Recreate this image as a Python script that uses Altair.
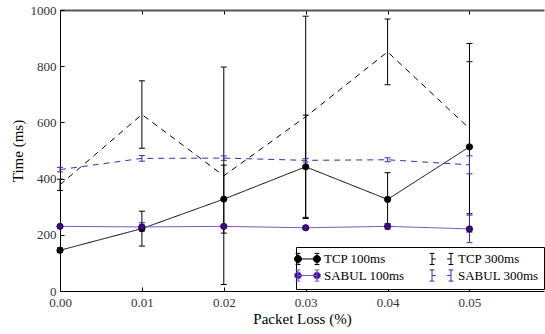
import math

import altair as alt
import pandas as pd

# Packet-loss levels (fraction) on the x axis
loss = [0.00, 0.01, 0.02, 0.03, 0.04, 0.05]

# Mean transfer time (ms) and its error half-width for each protocol / RTT
tcp_100 = [145, 222, 327, 442, 326, 513]
tcp_100_err = [8, 62, 121, 184, 95, 303]
sabul_100 = [230, 228, 230, 225, 230, 221]
sabul_100_err = [5, 15, 5, 5, 10, 49]
tcp_300 = [378, 628, 410, 620, 851, 578]
tcp_300_err = [20, 120, 387, 358, 117, 303]
sabul_300 = [432, 472, 473, 465, 467, 449]
sabul_300_err = [8, 10, 8, 6, 7, 32]

series_names = ["TCP 100ms", "SABUL 100ms", "TCP 300ms", "SABUL 300ms"]
series_means = [tcp_100, sabul_100, tcp_300, sabul_300]
series_errs = [tcp_100_err, sabul_100_err, tcp_300_err, sabul_300_err]
series_styles = ["solid", "solid", "dashed", "dashed"]

line_colors = ["#000000", "#7a55c8", "#000000", "#4f22a8"]
legend_fills = ["#000000", "#3d0b85", "transparent", "transparent"]
TCP_COLOR = "#000000"
SABUL_COLOR = "#4f22a8"
SABUL_MARKER = "#3d0b85"

y_ticks = [0, 200, 400, 600, 800, 1000]

rows = []
for name, means, errs, style in zip(series_names, series_means, series_errs, series_styles):
    for xv, m, e in zip(loss, means, errs):
        rows.append({"loss": xv, "series": name, "style": style,
                     "mean": m, "lo": m - e, "hi": m + e})
df = pd.DataFrame(rows)

W, H = 484, 281
SERIF = "Liberation Serif"

x_scale = alt.Scale(domain=[0, 0.0591], nice=False, zero=False)
y_scale = alt.Scale(domain=[0, 1000], nice=False)

# axes: labelled bottom/left, inward tick marks drawn by extra axes
x_main = alt.Axis(values=loss, format=".2f", title="Packet Loss (%)", ticks=False,
                  labelPadding=5, titlePadding=2, labelFlush=False,
                  domainColor="black", grid=False)
x_ticks_bottom = alt.Axis(orient="top", offset=-H, values=loss, labels=False,
                          domain=False, tickSize=4, tickColor="black",
                          title=None, grid=False)
x_top = alt.Axis(orient="bottom", offset=-H, values=loss, labels=False,
                 domainColor="#555555", domainWidth=2, tickSize=4,
                 tickColor="black", title=None, grid=False)
y_main = alt.Axis(values=y_ticks, format="d", title="Time (ms)", ticks=False,
                  labelPadding=4, titlePadding=5, labelFlush=False,
                  domainColor="black", grid=False)
y_ticks_left = alt.Axis(orient="right", offset=-W, values=y_ticks, labels=False,
                        domain=False, tickSize=4, tickColor="black",
                        title=None, grid=False)


# errorbar-style legend glyphs (unit box, scaled by symbol size: 6 px per unit)
def dot(cx, r=0.58, n=16):
    pts = [(cx + r * math.cos(2 * math.pi * k / n), r * math.sin(2 * math.pi * k / n))
           for k in range(n)]
    return "M" + "L".join(f"{px:.3f},{py:.3f}" for px, py in pts) + "Z"


BARS = ("M-1.58,-0.93L-1.58,0.93 M-1.98,-0.93L-1.18,-0.93 M-1.98,0.93L-1.18,0.93 "
        "M1.58,-0.93L1.58,0.93 M1.18,-0.93L1.98,-0.93 M1.18,0.93L1.98,0.93 ")
P100 = "M-1.58,0L1.58,0 " + BARS + dot(-1.58) + " " + dot(1.58)
P300 = BARS + "M-1.58,0L-0.95,0 M0.95,0L1.58,0"
legend_shapes = [P100, P100, P300, P300]

base = alt.Chart(df)

color_scale = alt.Scale(domain=series_names, range=line_colors)

lines = base.mark_line(strokeWidth=1).encode(
    x=alt.X("loss:Q", scale=x_scale, axis=x_main),
    y=alt.Y("mean:Q", scale=y_scale, axis=y_main),
    color=alt.Color("series:N", scale=color_scale),
    strokeDash=alt.StrokeDash("style:N",
                              scale=alt.Scale(domain=["solid", "dashed"],
                                              range=[[1, 0], [6, 5]]),
                              legend=None),
    detail="series:N",
)


def error_layers(prefix, col, first):
    sub = base.transform_filter(f"indexof(datum.series, '{prefix}') === 0")
    bars = sub.mark_rule(strokeWidth=1, color=col).encode(
        x=alt.X("loss:Q", scale=x_scale, axis=x_ticks_bottom if first else None),
        y=alt.Y("lo:Q", scale=y_scale, axis=y_ticks_left if first else None),
        y2="hi:Q",
    )
    lo = sub.mark_tick(orient="horizontal", size=6, thickness=1, color=col, opacity=1).encode(
        x=alt.X("loss:Q", scale=x_scale, axis=x_top if first else None),
        y=alt.Y("lo:Q", scale=y_scale, axis=None),
    )
    hi = sub.mark_tick(orient="horizontal", size=6, thickness=1, color=col, opacity=1).encode(
        x=alt.X("loss:Q", scale=x_scale, axis=None),
        y=alt.Y("hi:Q", scale=y_scale, axis=None),
    )
    return [bars, lo, hi]


def marker_layer(name, fill, stroke):
    return base.transform_filter(f"datum.series === '{name}'").mark_point(
        shape="circle", filled=True, size=40, opacity=1, fill=fill,
        stroke=stroke, strokeWidth=0.8,
    ).encode(
        x=alt.X("loss:Q", scale=x_scale, axis=None),
        y=alt.Y("mean:Q", scale=y_scale, axis=None),
    )


legend = alt.Legend(
    title=None, orient="none", legendX=236, legendY=237, columns=2,
    columnPadding=22, rowPadding=0, padding=5, strokeColor="black",
    fillColor="white", symbolSize=144, symbolStrokeWidth=1, symbolOpacity=1,
    labelFont=SERIF, labelFontSize=13, labelColor="black", labelOffset=10,
)

# legend carrier: no marks drawn, only the legend entries
key = base.transform_filter("false").mark_point(filled=False, opacity=1).encode(
    x=alt.X("loss:Q", scale=x_scale, axis=None),
    y=alt.Y("mean:Q", scale=y_scale, axis=None),
    color=alt.Color("series:N", scale=color_scale, legend=legend),
    fill=alt.Fill("series:N", scale=alt.Scale(domain=series_names, range=legend_fills),
                  legend=legend),
    shape=alt.Shape("series:N", scale=alt.Scale(domain=series_names, range=legend_shapes),
                    legend=legend),
)

layers = [lines]
layers += error_layers("TCP", TCP_COLOR, True)
layers += error_layers("SABUL", SABUL_COLOR, False)
layers += [marker_layer("TCP 100ms", TCP_COLOR, "#000000"),
           marker_layer("SABUL 100ms", SABUL_MARKER, "#1a0540"),
           key]

chart = alt.layer(*layers).resolve_axis(
    x="independent", y="independent"
).properties(
    width=W, height=H, autosize="none",
    padding={"left": 60, "top": 10, "right": 1, "bottom": 43},
    background="white",
).configure_view(stroke=None).configure_axis(
    labelFont=SERIF, labelFontSize=13, labelColor="#333333",
    titleFont=SERIF, titleFontSize=15, titleFontWeight="normal", titleColor="black",
)

chart.save("out.html", embed_options={"renderer": "svg", "actions": False})
